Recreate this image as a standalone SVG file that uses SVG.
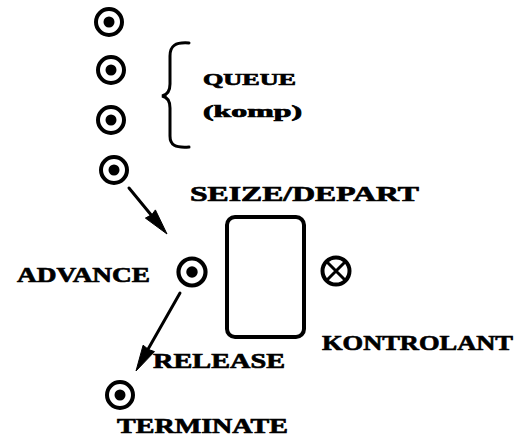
<svg xmlns="http://www.w3.org/2000/svg" width="530" height="439" viewBox="0 0 530 439">
  <defs>
    <style>
      .ring { fill: none; stroke: #000; stroke-width: 4; }
      .dot { fill: #000; }
      .line { fill: none; stroke: #000; stroke-width: 3; stroke-linecap: round; }
      .head { fill: #000; stroke: #000; stroke-width: 1; stroke-linejoin: round; }
      .lbl { font-family: "Liberation Serif", "DejaVu Serif", serif; font-weight: bold; fill: #000; stroke: #000; stroke-width: 0.7; }
      .big { font-size: 22px; }
      .small { font-size: 16px; }
    </style>
    <g id="block">
      <circle class="ring" r="13"/>
      <circle class="dot" r="5.5"/>
    </g>
  </defs>
  <rect width="530" height="439" fill="#fff"/>

  <!-- queued transactions -->
  <g id="q1"><use href="#block" x="109" y="22"/></g>
  <g id="q2"><use href="#block" x="111" y="70"/></g>
  <g id="q3"><use href="#block" x="111" y="120"/></g>
  <g id="q4"><use href="#block" x="114" y="170"/></g>

  <!-- queue label with brace -->
  <g id="queue">
    <path class="line" d="M189,43 C175,42 170,46 170,56 L170,84 C170,91 167,95 162,96 C167,97 170,101 170,108 L170,136 C170,145 175,148 189,147" stroke-width="3.4"/>
    <text class="lbl small" x="203" y="85" textLength="93" lengthAdjust="spacingAndGlyphs">QUEUE</text>
    <text class="lbl small" x="203" y="117" textLength="99" lengthAdjust="spacingAndGlyphs">(komp)</text>
  </g>

  <!-- facility -->
  <g id="facility">
    <rect x="227" y="217" width="77" height="120" rx="8" ry="8" fill="none" stroke="#000" stroke-width="4"/>
    <text class="lbl big" x="190" y="201" textLength="229" lengthAdjust="spacingAndGlyphs">SEIZE/DEPART</text>
    <text class="lbl big" x="153" y="368" textLength="132" lengthAdjust="spacingAndGlyphs">RELEASE</text>
  </g>

  <g id="advance">
    <g transform="translate(192,272) scale(1.04)"><use href="#block"/></g>
    <text class="lbl big" x="17" y="282" textLength="133" lengthAdjust="spacingAndGlyphs">ADVANCE</text>
  </g>

  <g id="kontrolant">
    <circle class="ring" cx="336" cy="271" r="13.5"/>
    <path class="line" d="M326.5,261.5 L345.5,280.5 M345.5,261.5 L326.5,280.5" stroke-width="3.6"/>
    <text class="lbl big" x="322" y="350" textLength="191" lengthAdjust="spacingAndGlyphs">KONTROLANT</text>
  </g>

  <g id="terminate">
    <use href="#block" x="120" y="395"/>
    <text class="lbl big" x="117" y="433" textLength="171" lengthAdjust="spacingAndGlyphs">TERMINATE</text>
  </g>

  <!-- connectors -->
  <g id="connectors">
    <line class="line" x1="129" y1="188" x2="152" y2="216"/>
    <path class="head" d="M167,234 L145.4,218.1 L152,214.5 L155.4,209.9 Z"/>
    <line class="line" x1="180" y1="293" x2="147" y2="351"/>
    <path class="head" d="M136,371 L143.1,345.2 L148.5,349.5 L154.5,351.6 Z"/>
  </g>
</svg>
